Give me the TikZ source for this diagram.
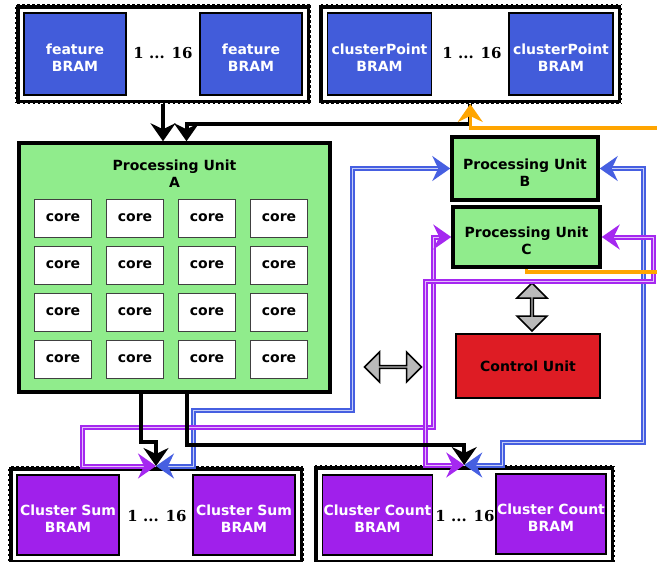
\documentclass[tikz,border=0pt]{standalone}
\usepackage{fontspec}
\setmainfont{DejaVu Sans}
\newfontfamily\numfont{DejaVu Serif}
\usetikzlibrary{arrows.meta, positioning, shapes.arrows, fit}
\definecolor{bramblue}{RGB}{66,92,218}
\definecolor{brampurple}{RGB}{160,32,235}
\definecolor{pugreen}{RGB}{144,236,140}
\definecolor{cured}{RGB}{222,28,36}
\definecolor{wireblue}{RGB}{70,95,225}
\definecolor{wirepurple}{RGB}{165,40,240}
\definecolor{wireorange}{RGB}{255,165,0}

\begin{document}
\begin{tikzpicture}[x=1pt, y=-1pt,
  txt/.style={font=\fontsize{14}{17}\selectfont\bfseries, align=center},
  lowtxt/.style={label={[txt, text=#1, yshift=-4pt]center:{\labeltext}}},
  bram/.style={rectangle, draw=black, line width=1.5pt, inner sep=0pt,
               minimum height=82pt, lowtxt=white},
  feat/.style={bram, fill=bramblue, minimum width=102pt},
  cpbram/.style={bram, fill=bramblue, minimum width=104pt},
  sumbram/.style={bram, fill=brampurple, minimum width=102pt, minimum height=80pt},
  cntbram/.style={bram, fill=brampurple, minimum width=110pt, minimum height=80pt},
  grp/.style={draw=black, line width=4.5pt, inner sep=6pt},
  grpdash/.style={draw=white, line width=1.8pt, dash pattern=on 2.5pt off 2.5pt},
  dots/.style={font=\numfont\fontsize{15}{16}\selectfont\bfseries},
  pu/.style={txt, rectangle, draw=black, line width=3.5pt, fill=pugreen},
  core/.style={txt, rectangle, draw=black!75, line width=0.8pt, fill=white,
               minimum width=57pt, minimum height=38pt},
  ctrl/.style={txt, rectangle, draw=black, line width=2pt, fill=cured,
               minimum width=144pt, minimum height=64pt},
  dblarrow/.style={double arrow, draw=black, line width=1.5pt, fill=gray!55,
                   minimum width=30pt, double arrow head extend=7pt, inner sep=0pt},
  blk/.style={-{Stealth[length=18pt,width=25pt,inset=6pt]}, draw=black, line width=4pt},
  blu/.style={{Stealth[length=18pt,width=25pt,inset=6pt]}-{Stealth[length=18pt,width=25pt,inset=6pt]},
              draw=wireblue, line width=2pt, double=white!70!wireblue, double distance=1pt},
  pur/.style={{Stealth[length=18pt,width=25pt,inset=6pt]}-{Stealth[length=18pt,width=25pt,inset=6pt]},
              draw=wirepurple, line width=2pt, double=white!70!wirepurple, double distance=1pt},
  org/.style={-{Stealth[length=18pt,width=25pt,inset=6pt]}, draw=wireorange, line width=3.5pt}
]
\useasboundingbox (0,0) rectangle (657,562);
\clip (0,0) rectangle (657,562);

% memories on top
\def\labeltext{feature\\BRAM}
\node[feat] (feat1) at (75,54) {};
\node[feat] (feat2) at (251,54) {};
\node[dots] (featdots) at (163,53) {1 ... 16};
\node[grp, fit=(feat1)(feat2)] (fgrp) {};

\def\labeltext{clusterPoint\\BRAM}
\node[cpbram] (cp1) at (379.5,54) {};
\node[cpbram] (cp2) at (561,54) {};
\node[dots] (cpdots) at (472,53) {1 ... 16};
\node[grp, fit=(cp1)(cp2)] (cpgrp) {};

% processing unit A with its cores
\node[pu, minimum width=311pt, minimum height=249pt] (pua) at (174.5,267.5) {};
\node[txt, below=18pt of pua.north, inner sep=0pt] (puatitle) {Processing Unit\\A};
\foreach \i in {0,...,3}
  \foreach \j in {0,...,3}
    \node[core] (core\i\j) at (63+72*\i,218+47*\j) {core};

\def\labeltext{Processing Unit\\B}
\node[pu, lowtxt=black, minimum width=146pt, minimum height=63pt] (pub) at (525,168.5) {};
\def\labeltext{Processing Unit\\C}
\node[pu, lowtxt=black, minimum width=147pt, minimum height=60pt] (puc) at (526.5,237) {};
\node[ctrl] (ctrl) at (528,366) {Control Unit};

\node[dblarrow, shape border rotate=90, minimum height=48pt] (varrow) at (532,307) {};
\node[dblarrow, minimum height=57pt] (harrow) at (393,367) {};

% memories at the bottom
\def\labeltext{Cluster Sum\\BRAM}
\node[sumbram] (sum1) at (68,515) {};
\node[sumbram] (sum2) at (244,515) {};
\node[dots] (sumdots) at (157,516) {1 ... 16};
\node[grp, fit=(sum1)(sum2)] (csgrp) {};

\def\labeltext{Cluster Count\\BRAM}
\node[cntbram] (cnt1) at (377.5,515) {};
\node[cntbram] (cnt2) at (551,514) {};
\node[dots] (cntdots) at (465,516) {1 ... 16};
\node[grp, fit=(cnt1)(cnt2)] (ccgrp) {};

% dashed look of the memory groups
\foreach \g in {fgrp,cpgrp,csgrp,ccgrp}
  \draw[grpdash] (\g.north west) rectangle (\g.south east);

\coordinate (csin) at (csgrp.north);
\coordinate (ccin) at (ccgrp.north);

% wires
\draw[blu] (csin) -| (193,410) -| (pub.west -| 352,0) -- (pub.west);
\draw[blu] (ccin) -| (502,442) -| (pub.east -| 643,0) -- (pub.east);
\draw[pur] (csin) -| (82,427) -| (puc.west -| 433,0) -- (puc.west);
\draw[pur] (ccin) -| (425,281) -| (puc.east -| 653,0) -- (puc.east);

\draw[blk] (fgrp.south) -- (fgrp.south |- pua.north);
\draw[blk] (cpgrp.south) -- ++(0,20) -| ([xshift=12pt]pua.north);
\draw[blk] ([xshift=-34pt]pua.south) -- ++(0,48) -| (csin);
\draw[blk] ([xshift=12pt]pua.south) -- ++(0,51) -| (ccin);

\draw[org] (puc.south) |- (680,272) |- (cpgrp.south |- 0,128) -- (cpgrp.south);
\end{tikzpicture}
\end{document}
